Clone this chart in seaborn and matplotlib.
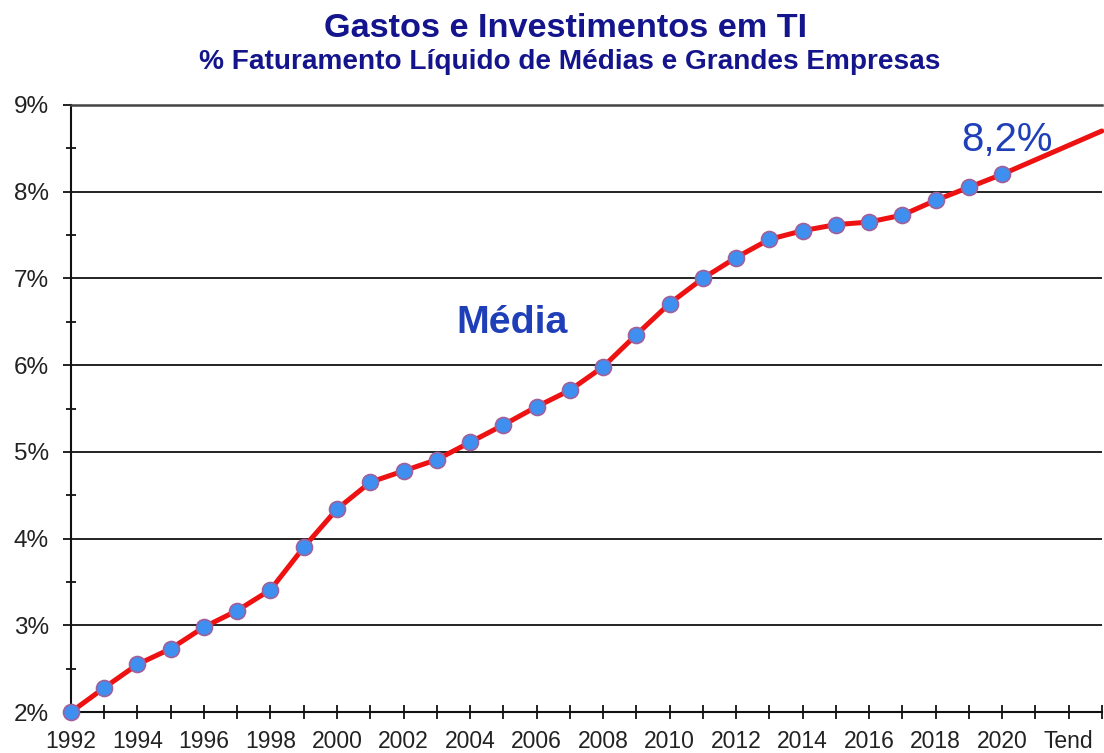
import matplotlib
matplotlib.use("Agg")
import matplotlib.pyplot as plt
import seaborn as sns
import pandas as pd
from matplotlib.ticker import FixedLocator

years = list(range(1992, 2021))
values = [2.00, 2.28, 2.55, 2.73, 2.98, 3.17, 3.41, 3.90, 4.34, 4.65,
          4.78, 4.91, 5.11, 5.31, 5.52, 5.71, 5.98, 6.35, 6.71, 7.00,
          7.24, 7.45, 7.55, 7.62, 7.65, 7.73, 7.90, 8.05, 8.20]
trend_years = [2020, 2023]
trend_values = [8.20, 8.70]
tick_years = list(range(1992, 2024))
tick_labels = [str(y) if (y % 2 == 0 and y <= 2020) else "" for y in tick_years]
tick_labels[tick_years.index(2022)] = "Tend"
y_ticks = [2, 3, 4, 5, 6, 7, 8, 9]
y_labels = [f"{v}%" for v in y_ticks]

title = "Gastos e Investimentos em TI"
subtitle = "% Faturamento Líquido de Médias e Grandes Empresas"
series_label = "Média"
last_label = "8,2%"

sns.set_theme(style="white")
plt.rcParams['font.family'] = ['Liberation Sans', 'DejaVu Sans']

df = pd.DataFrame({"ano": years, "valor": values})
dft = pd.DataFrame({"ano": trend_years, "valor": trend_values})

fig = plt.figure(figsize=(11.04, 7.53), dpi=100)
ax = fig.add_axes([0.0643, 0.0544, 0.9337, 0.8062])

for v in y_ticks[:-1]:
    ax.axhline(v, color="#111111", lw=1.3, zorder=1)

sns.lineplot(data=dft, x="ano", y="valor", ax=ax, color="#ee1111", lw=3.6,
             zorder=3, clip_on=False)
sns.lineplot(data=df, x="ano", y="valor", ax=ax, color="#ee1111", lw=3.6,
             marker="o", markersize=11.5, markerfacecolor="#3f8ff0",
             markeredgecolor="#a0609a", markeredgewidth=1.2,
             zorder=4, clip_on=False)

ax.set_xlim(1992, 2023)
ax.set_ylim(2, 9)
ax.set_xticks(tick_years)
ax.set_xticklabels(tick_labels)
ax.set_yticks(y_ticks)
ax.set_yticklabels(y_labels)
ax.yaxis.set_minor_locator(FixedLocator([v + 0.5 for v in y_ticks[:-1]]))
ax.set_xlabel("")
ax.set_ylabel("")

ax.tick_params(axis="x", which="major", direction="inout", length=9.5, width=1.3,
               color="#111111", labelsize=16.5, labelcolor="#222222", pad=8,
               bottom=True)
ax.tick_params(axis="y", which="major", direction="out", length=6, width=1.3,
               color="#111111", labelsize=17.5, labelcolor="#222222", pad=10,
               left=True)
ax.tick_params(axis="y", which="minor", direction="inout", length=7.5, width=1.3,
               color="#111111", left=True)

ax.spines["right"].set_visible(False)
ax.spines["top"].set_color("#444444")
ax.spines["top"].set_linewidth(1.8)
for s in ["left", "bottom"]:
    ax.spines[s].set_color("#111111")
    ax.spines[s].set_linewidth(1.5)

ax.text(2005.26, 6.37, series_label, ha="center", va="baseline", fontsize=28.4,
        fontweight="bold", color="#1f3fb8")
ax.text(2020.14, 8.47, last_label, ha="center", va="baseline", fontsize=28.9,
        color="#1f3fb8")

fig.text(0.512, 0.9509, title, ha="center", va="baseline", fontsize=24.7,
         fontweight="bold", color="#14148c")
fig.text(0.516, 0.9084, subtitle, ha="center", va="baseline", fontsize=20.2,
         fontweight="bold", color="#14148c")

fig.savefig("out.png", dpi=100)
